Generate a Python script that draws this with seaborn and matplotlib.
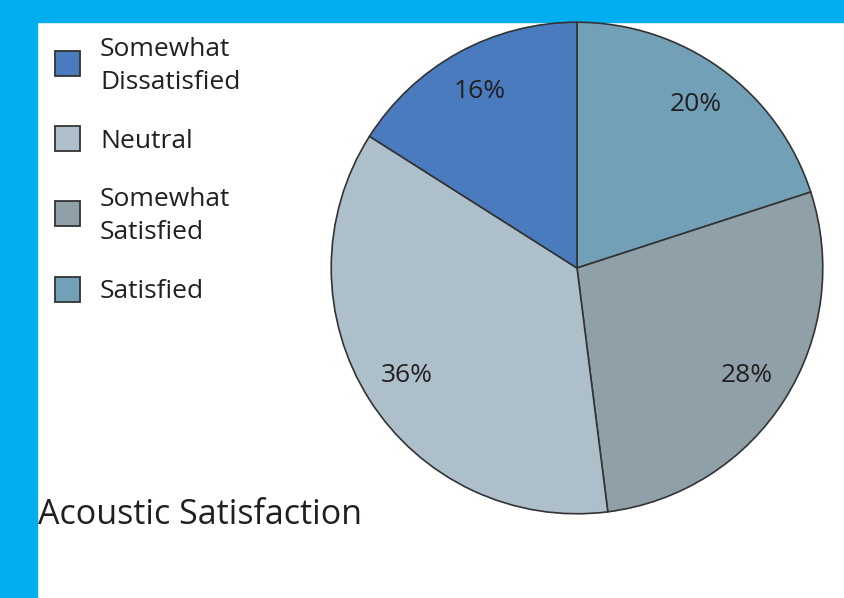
import matplotlib
matplotlib.use("Agg")
import matplotlib.pyplot as plt
import seaborn as sns
from matplotlib.patches import Rectangle

# data (clockwise from 12 o'clock)
categories = ["Satisfied", "Somewhat Satisfied", "Neutral", "Somewhat Dissatisfied"]
shares = [20, 28, 36, 16]
colors = ["#72a0b6", "#8fa0a8", "#adbfca", "#4a7bbf"]

legend_order = ["Somewhat\nDissatisfied", "Neutral", "Somewhat\nSatisfied", "Satisfied"]
legend_colors = ["#4a7bbf", "#adbfca", "#8fa0a8", "#72a0b6"]

sns.set_theme(style="white")
plt.rcParams["font.family"] = ["Open Sans", "DejaVu Sans"]

W, H = 844, 598
fig = plt.figure(figsize=(W / 100, H / 100), dpi=100)
fig.patch.set_facecolor("white")

# blue frame top and left
frame = "#00aeef"
fig.add_artist(Rectangle((0, 1 - 22 / H), 1, 22 / H, transform=fig.transFigure,
                         color=frame, zorder=0))
fig.add_artist(Rectangle((0, 0), 37 / W, 1, transform=fig.transFigure,
                         color=frame, zorder=0))

cx, cy, r = 577, 268, 247
ax = fig.add_axes([(cx - r) / W, (H - cy - r) / H, 2 * r / W, 2 * r / H])
wedges, texts, autotexts = ax.pie(
    shares, colors=colors, startangle=90, counterclock=False,
    autopct="%d%%", pctdistance=0.82,
    wedgeprops=dict(edgecolor="#333333", linewidth=1.2),
    textprops=dict(fontsize=19, color="#231f20"),
)
ax.set_xlim(-1.005, 1.005)
ax.set_ylim(-1.005, 1.005)
ax.set_aspect("equal")
ax.axis("off")

# legend
rows_y = [64, 139, 214, 290]
for lab, col, y in zip(legend_order, legend_colors, rows_y):
    fig.add_artist(Rectangle((55 / W, 1 - (y + 12) / H), 25 / W, 25 / H,
                             transform=fig.transFigure, facecolor=col,
                             edgecolor="#333333", linewidth=1.3))
    fig.text(100 / W, 1 - (y + 2) / H, lab, fontsize=19, color="#231f20",
             va="center", ha="left", linespacing=1.4)

fig.text(38 / W, 1 - 515 / H, "Acoustic Satisfaction", fontsize=24.5,
         color="#231f20", va="center", ha="left")

fig.savefig("out.png", dpi=100, facecolor="white")
